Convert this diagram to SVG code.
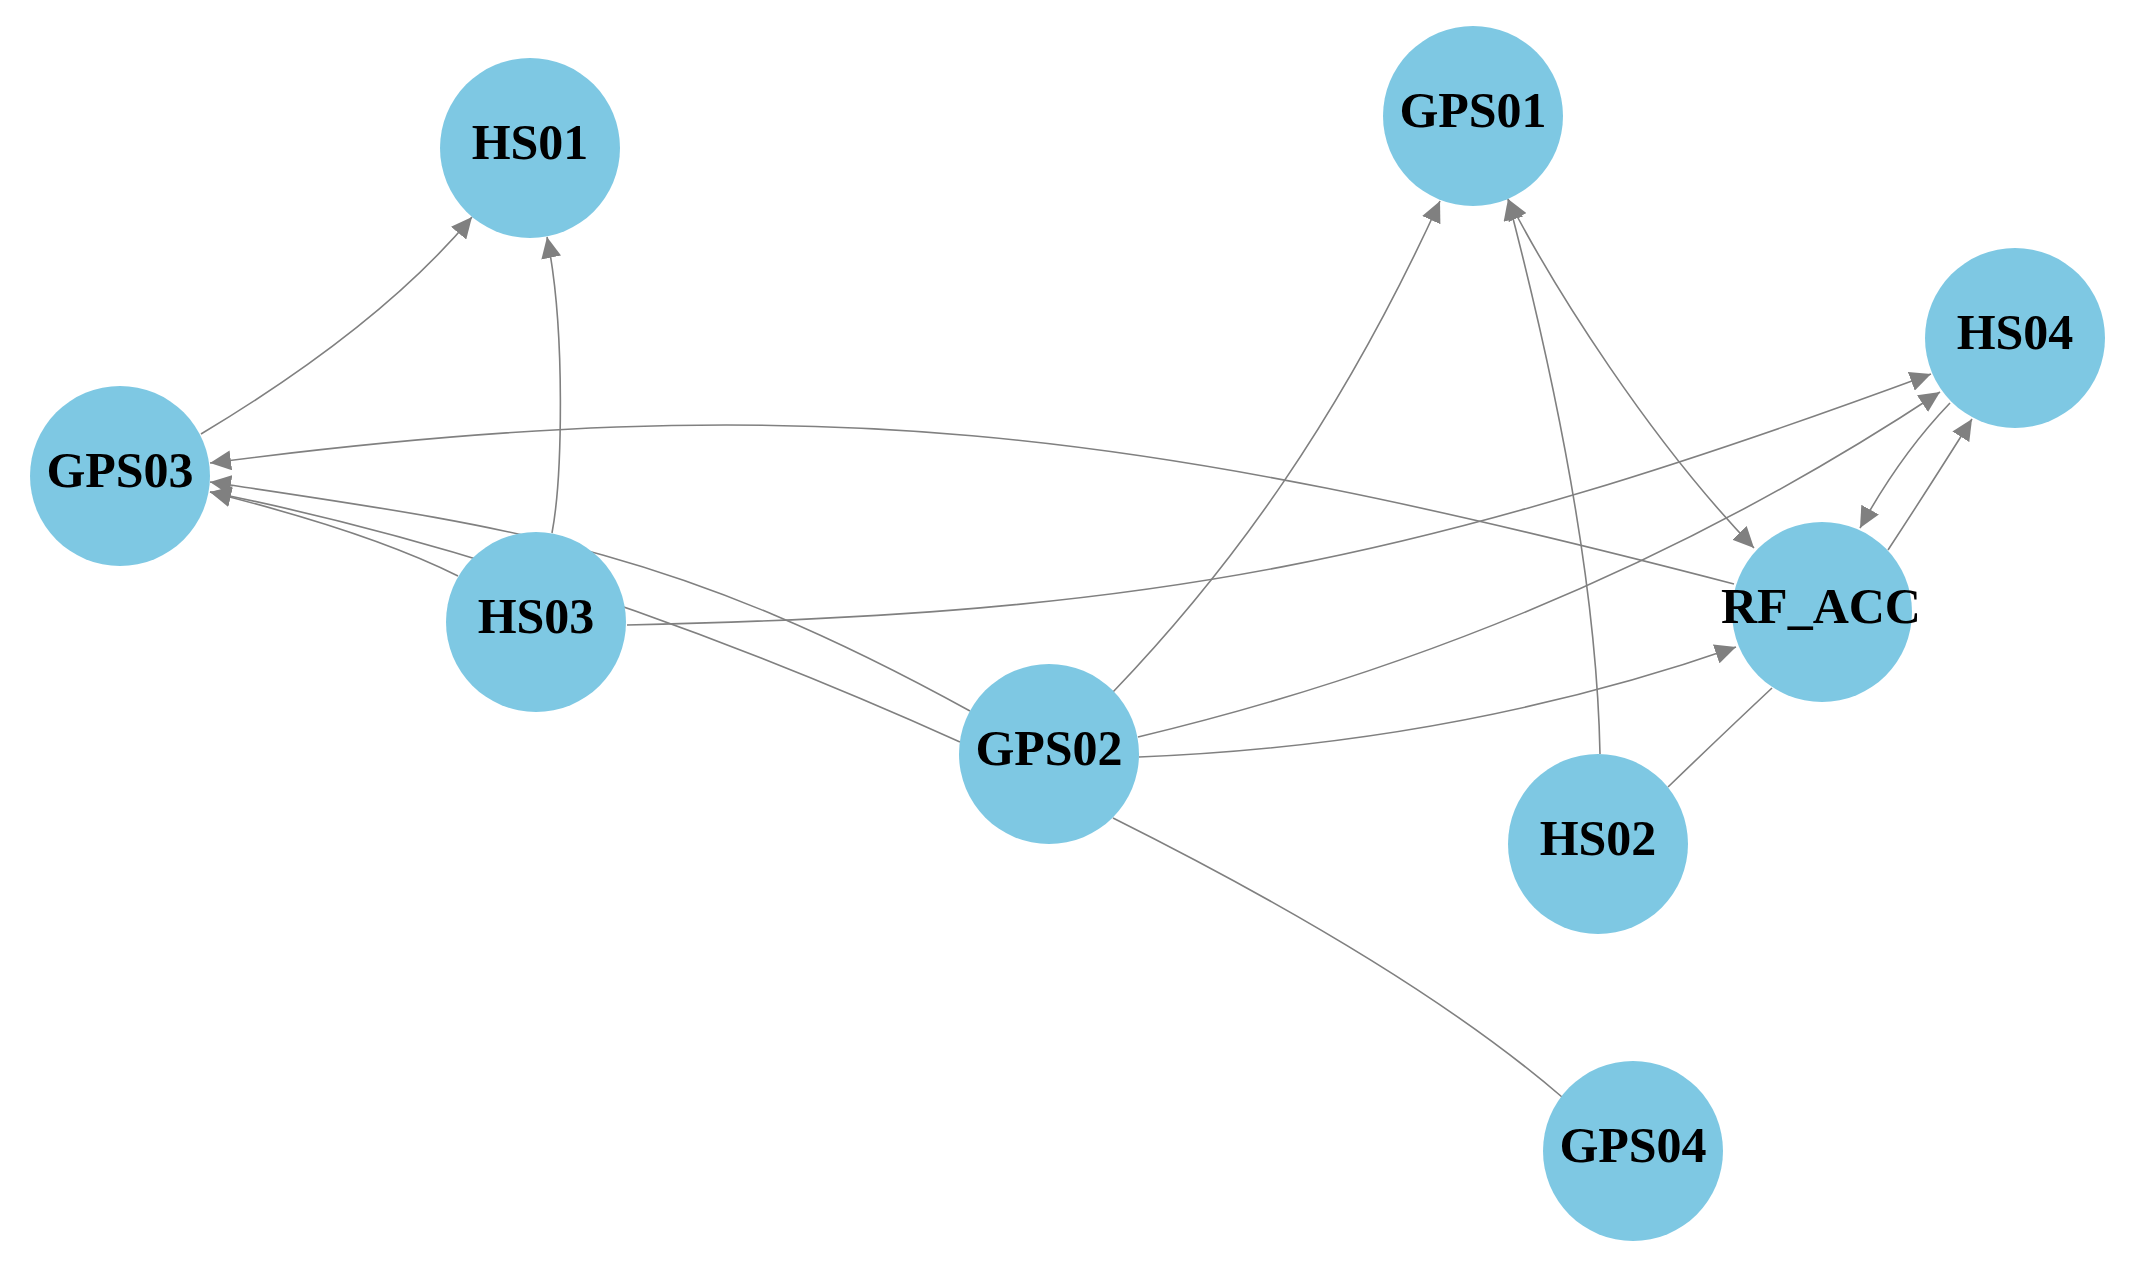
<svg xmlns="http://www.w3.org/2000/svg" width="2135" height="1273" viewBox="0 0 2135 1273">
<style>
.edge{fill:none;stroke:#808080;stroke-width:1.6}
.node circle{fill:#7EC8E3}
.node text{font-family:"Liberation Serif","Times New Roman",serif;font-weight:bold;font-size:50px;fill:#000;text-anchor:middle}
</style>
<defs>
<marker id="arr" viewBox="0 0 21 20" refX="21" refY="10" markerWidth="21" markerHeight="20" markerUnits="userSpaceOnUse" orient="auto-start-reverse">
<path d="M0,0 L21,10 L0,20 z" fill="#808080"/>
</marker>
</defs>
<rect width="2135" height="1273" fill="#fff"/>
<g id="connectors">
<path class="edge" d="M201,434 Q381,326 472,217" marker-end="url(#arr)"/>
<path class="edge" d="M552,533 C562,480 566,330 547,237" marker-end="url(#arr)"/>
<path class="edge" d="M1734,584 C1134,428 810,385 210,463" marker-end="url(#arr)"/>
<path class="edge" d="M458,576 Q370,532 210,492" marker-end="url(#arr)"/>
<path class="edge" d="M960,742 Q560,562 210,492" marker-end="url(#arr)"/>
<path class="edge" d="M970,711 C670,546 510,527 210,482" marker-end="url(#arr)"/>
<path class="edge" d="M1113,692 C1230,570 1340,420 1440,201" marker-end="url(#arr)"/>
<path class="edge" d="M1508,199 C1555,290 1650,440 1754,548" marker-start="url(#arr)" marker-end="url(#arr)"/>
<path class="edge" d="M1600,754 Q1596,536 1508,199" marker-end="url(#arr)"/>
<path class="edge" d="M627,625 C1153,614 1416,564 1931,374" marker-end="url(#arr)"/>
<path class="edge" d="M1138,737 Q1577,632 1940,392" marker-end="url(#arr)"/>
<path class="edge" d="M1139,757 Q1458,744 1736,647" marker-end="url(#arr)"/>
<path class="edge" d="M1950,403 Q1900,455 1860,528" marker-end="url(#arr)"/>
<path class="edge" d="M1888,550 Q1928,489 1972,419" marker-end="url(#arr)"/>
<path class="edge" d="M1113,818 Q1411,967 1562,1097"/>
<path class="edge" d="M1668,787 Q1725,732 1772,688"/>
</g>
<g id="HS01" class="node"><circle cx="530" cy="148" r="90"/><text x="530" y="159">HS01</text></g>
<g id="GPS01" class="node"><circle cx="1473" cy="116" r="90"/><text x="1473" y="127">GPS01</text></g>
<g id="HS04" class="node"><circle cx="2015" cy="338" r="90"/><text x="2015" y="349">HS04</text></g>
<g id="GPS03" class="node"><circle cx="120" cy="476" r="90"/><text x="120" y="487">GPS03</text></g>
<g id="HS03" class="node"><circle cx="536" cy="622" r="90"/><text x="536" y="633">HS03</text></g>
<g id="RF_ACC" class="node"><circle cx="1822" cy="612" r="90"/><text x="1821" y="623">RF_ACC</text></g>
<g id="GPS02" class="node"><circle cx="1049" cy="754" r="90"/><text x="1049" y="765">GPS02</text></g>
<g id="HS02" class="node"><circle cx="1598" cy="844" r="90"/><text x="1598" y="855">HS02</text></g>
<g id="GPS04" class="node"><circle cx="1633" cy="1151" r="90"/><text x="1633" y="1162">GPS04</text></g>
</svg>
